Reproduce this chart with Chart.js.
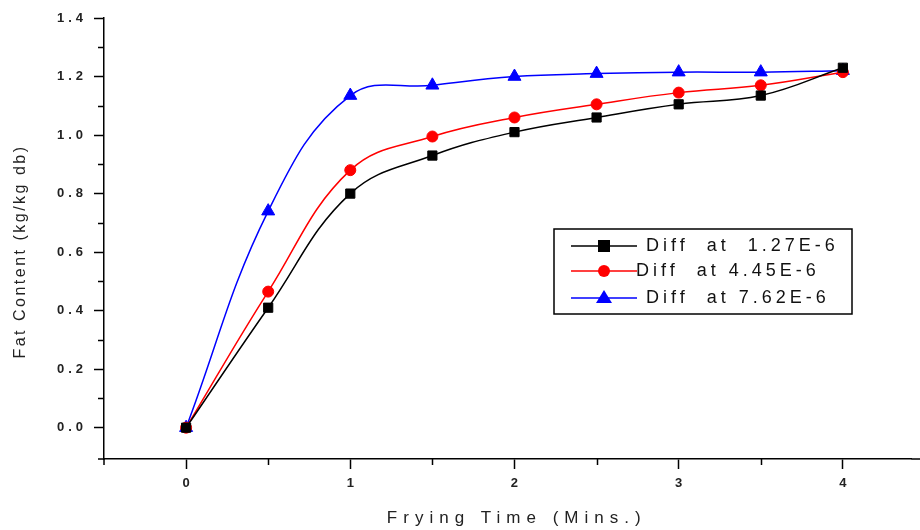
<!DOCTYPE html>
<html>
<head>
<meta charset="utf-8">
<script src="https://cdn.jsdelivr.net/npm/chart.js@4.4.0/dist/chart.umd.min.js"></script>
<style>
html,body{margin:0;padding:0;background:#fff;}
#wrap{width:920px;height:530px;position:relative;}
</style>
</head>
<body>
<div id="wrap"><canvas id="c" width="920" height="530"></canvas></div>
<script>
// ---- data ----
const fryingTime = [0, 0.5, 1, 1.5, 2, 2.5, 3, 3.5, 4];
const diff127 = [0, 0.41, 0.80, 0.93, 1.01, 1.06, 1.105, 1.135, 1.23];
const diff445 = [0, 0.465, 0.88, 0.995, 1.06, 1.105, 1.145, 1.17, 1.215];
const diff762 = [0, 0.74, 1.135, 1.17, 1.20, 1.21, 1.215, 1.215, 1.22];
const seriesLabels = ['Diff  at  1.27E-6', 'Diff  at 4.45E-6', 'Diff  at 7.62E-6'];
const xTickValues = [0, 1, 2, 3, 4];
const yTickValues = [0, 0.2, 0.4, 0.6, 0.8, 1.0, 1.2, 1.4];
const xMinorTicks = [0.5, 1.5, 2.5, 3.5];
const yMinorTicks = [0.1, 0.3, 0.5, 0.7, 0.9, 1.1, 1.3];

const toPts = arr => fryingTime.map((t, i) => ({x: t, y: arr[i]}));
const FONT = '"Liberation Sans", Arial, sans-serif';

const minorTicks = {
  id: 'minorTicks',
  afterDraw(chart) {
    const ctx = chart.ctx, xs = chart.scales.x, ys = chart.scales.y;
    const a = chart.chartArea;
    ctx.save();
    ctx.strokeStyle = '#000';
    ctx.lineWidth = 1.5;
    ctx.beginPath();
    yMinorTicks.forEach(v => {
      const p = Math.round(ys.getPixelForValue(v)) + 0.5;
      ctx.moveTo(a.left, p); ctx.lineTo(a.left - 6, p);
    });
    xMinorTicks.forEach(v => {
      const p = Math.round(xs.getPixelForValue(v)) + 0.5;
      ctx.moveTo(p, a.bottom); ctx.lineTo(p, a.bottom + 6);
    });
    ctx.moveTo(a.left, a.bottom); ctx.lineTo(a.left, a.bottom + 6);
    ctx.moveTo(a.left, a.bottom); ctx.lineTo(a.left - 6, a.bottom);
    // axis line runs on to the canvas edge
    ctx.moveTo(a.right, a.bottom); ctx.lineTo(chart.width, a.bottom);
    ctx.stroke();
    ctx.restore();
  }
};

const boxLegend = {
  id: 'boxLegend',
  afterDraw(chart) {
    const ctx = chart.ctx;
    const bx = 554, by = 229, bw = 298, bh = 85;
    ctx.save();
    ctx.strokeStyle = '#000';
    ctx.lineWidth = 1.5;
    ctx.strokeRect(bx, by, bw, bh);
    const rows = [246, 271, 298];
    ctx.font = '18px ' + FONT;
    ctx.letterSpacing = '4px';
    ctx.textBaseline = 'middle';
    chart.data.datasets.forEach((ds, i) => {
      const y = rows[i];
      ctx.strokeStyle = ds.borderColor;
      ctx.lineWidth = 1.5;
      ctx.beginPath();
      ctx.moveTo(571, y); ctx.lineTo(637, y);
      ctx.stroke();
      ctx.fillStyle = ds.pointBackgroundColor;
      ctx.beginPath();
      if (ds.pointStyle === 'rect') {
        ctx.fillRect(598, y - 6, 12, 12);
      } else if (ds.pointStyle === 'circle') {
        ctx.arc(604, y, 6, 0, Math.PI * 2); ctx.fill();
      } else {
        ctx.moveTo(604, y - 8); ctx.lineTo(612, y + 5); ctx.lineTo(596, y + 5); ctx.closePath(); ctx.fill();
      }
      ctx.fillStyle = '#111';
      ctx.fillText(ds.label, i === 1 ? 636 : 646, y);
    });
    ctx.restore();
  }
};

const spacedText = {
  id: 'spacedText',
  afterLayout(chart) {
    const cfg = {
      x: {title: '6px', labels: '0px', dx: 9, dy: 0},
      y: {title: '2.5px', labels: '4px', dx: 6, dy: 13}
    };
    Object.keys(cfg).forEach(id => {
      const s = chart.scales[id];
      if (s && !s._spaced) {
        const o = cfg[id];
        const ot = s.drawTitle.bind(s), ol = s.drawLabels.bind(s);
        s.drawTitle = function () { const c = this.ctx; c.save(); c.translate(o.dx, o.dy); c.letterSpacing = o.title; ot(); c.restore(); };
        s.drawLabels = function (ca) { const c = this.ctx; c.save(); c.letterSpacing = o.labels; ol(ca); c.restore(); };
        s._spaced = true;
      }
    });
  }
};

const tickFont = {family: FONT, size: 13, weight: 'bold'};

new Chart(document.getElementById('c'), {
  type: 'line',
  data: {
    datasets: [
      {label: seriesLabels[0], data: toPts(diff127), borderColor: '#000', backgroundColor: '#000',
       pointBackgroundColor: '#000', pointBorderColor: '#000', pointStyle: 'rect', pointRadius: 6.5},
      {label: seriesLabels[1], data: toPts(diff445), borderColor: '#ff0000', backgroundColor: '#ff0000',
       pointBackgroundColor: '#ff0000', pointBorderColor: '#ff0000', pointStyle: 'circle', pointRadius: 5.5},
      {label: seriesLabels[2], data: toPts(diff762), borderColor: '#0000ff', backgroundColor: '#0000ff',
       pointBackgroundColor: '#0000ff', pointBorderColor: '#0000ff', pointStyle: 'triangle', pointRadius: 7.5}
    ]
  },
  options: {
    responsive: false,
    animation: false,
    devicePixelRatio: 1,
    layout: {padding: {top: 18, right: 0, left: 0, bottom: 0}},
    elements: {line: {borderWidth: 1.5, tension: 0.4, fill: false}, point: {borderWidth: 1}},
    plugins: {legend: {display: false}, tooltip: {enabled: false}},
    scales: {
      x: {
        type: 'linear', min: -0.5, max: 4.418,
        afterBuildTicks: s => { s.ticks = xTickValues.map(v => ({value: v})); },
        afterFit: s => { s.height = 71; },
        grid: {drawOnChartArea: false, drawTicks: true, tickLength: 10, tickColor: '#000', tickWidth: 1.5},
        border: {display: true, color: '#000', width: 1.5},
        ticks: {color: '#222', font: tickFont, padding: 7, maxRotation: 0, callback: v => String(v)},
        title: {display: true, text: 'Frying Time (Mins.)', color: '#222',
                font: {family: FONT, size: 17}, padding: {top: 0, bottom: 1}}
      },
      y: {
        type: 'linear', min: -0.107, max: 1.4,
        afterBuildTicks: s => { s.ticks = yTickValues.map(v => ({value: v})); },
        afterFit: s => { s.width = 104; },
        grid: {drawOnChartArea: false, drawTicks: true, tickLength: 10, tickColor: '#000', tickWidth: 1.5},
        border: {display: true, color: '#000', width: 1.5},
        ticks: {color: '#222', font: tickFont, padding: 7, callback: v => Number(v).toFixed(1)},
        title: {display: true, text: 'Fat Content (kg/kg db)', color: '#222',
                font: {family: FONT, size: 16}, padding: {top: 5, bottom: 0}}
      }
    }
  },
  plugins: [minorTicks, boxLegend, spacedText]
});
</script>
</body>
</html>
